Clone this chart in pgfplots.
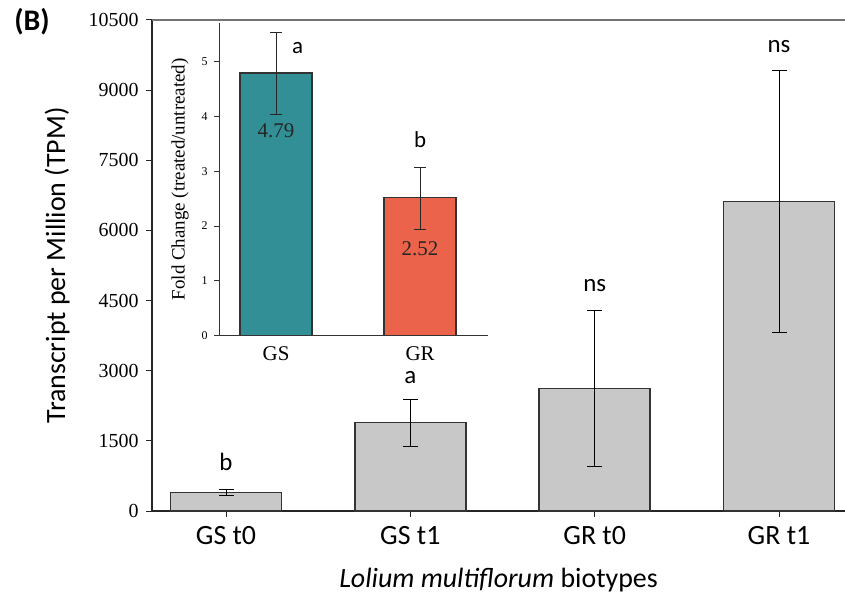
\documentclass[border=0pt]{standalone}
\usepackage{pgfplots}
\pgfplotsset{compat=1.18}
\usepackage{fontspec}
\setmainfont{Liberation Serif}
\newfontfamily\calib{Carlito}
\definecolor{teal1}{HTML}{338F96}
\definecolor{red1}{HTML}{EA634A}
\definecolor{barg}{HTML}{C8C8C8}
\definecolor{edge}{HTML}{333333}
\begin{document}
\begin{tikzpicture}
\useasboundingbox (0,0) rectangle (845bp,597bp);
\node[font=\calib\bfseries\fontsize{30}{34}\selectfont, anchor=center] at (32bp,575bp) {(B)};
% main axis
\begin{axis}[
  at={(152bp,86bp)}, anchor=south west,
  scale only axis, width=693bp, height=491bp,
  xmin=-0.4015, xmax=3.358, ymin=0, ymax=10500,
  axis x line*=bottom, axis y line*=left,
  axis line style={-, line width=1.2bp, color=black!85},
  xtick={0,1,2,3}, xticklabels={GS t0, GS t1, GR t0, GR t1},
  ytick={0,1500,...,10500},
  scaled y ticks=false,
  tick align=outside, major tick length=6bp,
  tick style={line width=1bp, black!85},
  /pgf/number format/assume math mode=true,
  /pgf/number format/1000 sep={},
  yticklabel style={font=\fontsize{20}{24}\selectfont, xshift=-4bp},
  xticklabel style={font=\calib\fontsize{28}{32}\selectfont, yshift=-6bp},
  ylabel={Transcript per Million (TPM)},
  ylabel style={font=\calib\fontsize{28}{32}\selectfont, at={(axis description cs:-0.137,0.5)}, anchor=center},
  xlabel={\textit{Lolium multiflorum} biotypes},
  xlabel style={font=\calib\fontsize{28}{32}\selectfont, at={(axis description cs:0.5,-0.1405)}, anchor=center},
  clip=false,
]
\addplot[ybar, bar shift=0pt, bar width=0.602, fill=barg, draw=edge, line width=1.5bp,
  error bars/.cd, y dir=both, y explicit,
  error bar style={black, line width=1bp},
  error mark options={rotate=90, mark size=7.5bp, black, line width=1bp}]
  coordinates {(0,400) +- (0,60) (1,1890) +- (0,500) (2,2620) +- (0,1670) (3,6620) +- (0,2810)};
\draw[line width=1.8bp, black!55] (rel axis cs:0,1) -- (rel axis cs:1,1);
\node[font=\calib\fontsize{25}{28}\selectfont] at (axis cs:0,1040) {b};
\node[font=\calib\fontsize{25}{28}\selectfont] at (axis cs:1,2860) {a};
\node[font=\calib\fontsize{25}{28}\selectfont] at (axis cs:2,4820) {ns};
\node[font=\calib\fontsize{25}{28}\selectfont] at (axis cs:3,9940) {ns};
\end{axis}
% inset
\begin{axis}[
  at={(219bp,261.3bp)}, anchor=south west,
  scale only axis, width=269bp, height=312.7bp,
  xmin=-0.396, xmax=1.472, ymin=0, ymax=5.70,
  axis x line*=bottom, axis y line*=left,
  axis line style={-, line width=1bp, color=black!80},
  xtick={0,1}, xticklabels={GS,GR},
  ytick={0,1,2,3,4,5},
  tick align=outside, major tick length=5bp,
  xtick style={draw=none},
  ytick style={line width=0.8bp, black!80},
  /pgf/number format/assume math mode=true,
  yticklabel style={font=\fontsize{12}{14}\selectfont, xshift=-3bp},
  xticklabel style={font=\fontsize{21}{24}\selectfont, yshift=-2bp},
  ylabel={Fold Change (treated/untreated)},
  ylabel style={font=\fontsize{19}{22}\selectfont, at={(axis description cs:-0.145,0.5)}, anchor=center},
  clip=false,
]
\addplot[ybar, bar shift=0pt, bar width=0.5, fill=teal1, draw=edge, line width=1.5bp,
  error bars/.cd, y dir=both, y explicit,
  error bar style={black!85, line width=1bp},
  error mark options={rotate=90, mark size=6bp, black!85, line width=1bp}]
  coordinates {(0,4.79) += (0,0.74) -= (0,0.75)};
\addplot[ybar, bar shift=0pt, bar width=0.5, fill=red1, draw=edge, line width=1.5bp,
  error bars/.cd, y dir=both, y explicit,
  error bar style={black!85, line width=1bp},
  error mark options={rotate=90, mark size=6bp, black!85, line width=1bp}]
  coordinates {(1,2.52) += (0,0.55) -= (0,0.58)};
\node[font=\fontsize{21}{24}\selectfont, text=black!85] at (axis cs:0,3.73) {4.79};
\node[font=\fontsize{21}{24}\selectfont, text=black!85] at (axis cs:1,1.58) {2.52};
\node[font=\calib\fontsize{23}{26}\selectfont] at (axis cs:0.15,5.25) {a};
\node[font=\calib\fontsize{23}{26}\selectfont] at (axis cs:1,3.57) {b};
\end{axis}
\end{tikzpicture}
\end{document}
